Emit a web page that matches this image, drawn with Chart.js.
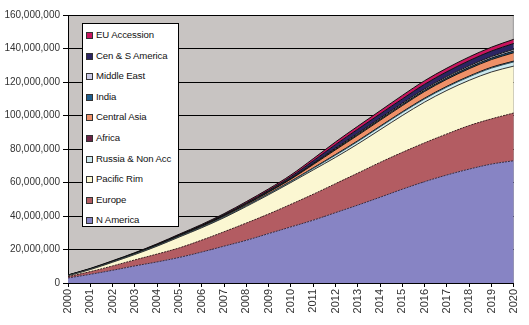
<!DOCTYPE html>
<html>
<head>
<meta charset="utf-8">
<script src="https://cdn.jsdelivr.net/npm/chart.js@4/dist/chart.umd.min.js"></script>
<style>
body { margin: 0; background: #fff; }
#wrap { position: relative; width: 529px; height: 325px; }
#legend {
    position: absolute; left: 82px; top: 23px; width: 97px; height: 204px;
    background: #fff; border: 1px solid #000; box-sizing: border-box;
    font: 9.6px "Liberation Sans", Arial, sans-serif; color: #111;
    padding-top: 1px; letter-spacing: -0.1px;
}
#legend div { height: 20.6px; line-height: 20.6px; white-space: nowrap; }
#legend span.sw {
    display: inline-block; width: 5px; height: 5px; border: 1px solid #333;
    margin: 0 3px 0 3px; vertical-align: -1px;
}
</style>
</head>
<body>
<div id="wrap">
<canvas id="area_chart" width="529" height="325"></canvas>
<div id="legend"></div>
</div>
<script>
// years on the x axis
var years = ["2000","2001","2002","2003","2004","2005","2006","2007","2008","2009","2010",
             "2011","2012","2013","2014","2015","2016","2017","2018","2019","2020"];

// values in millions
var nAmerica    = [3, 5.2, 7.6, 10.2, 12.6, 15.3, 18.5, 22, 25.5, 29.5, 33.5, 37.5, 42, 46.5, 51.2, 56, 60.5, 64.5, 68, 71, 73];
var europe      = [0.8, 1.6, 2.6, 3.6, 4.7, 5.7, 7.1, 8.6, 10.3, 11.7, 13.5, 15.5, 17.3, 19.1, 20.8, 22, 23.2, 24.5, 26, 27, 28.5];
var pacificRim  = [0.5, 1.2, 2.2, 3.2, 4.7, 6.5, 7.4, 8.4, 9.9, 11.5, 13, 14.5, 15.7, 17.4, 19.5, 22, 24.3, 26, 27, 28, 28];
var russia      = [0.1, 0.1, 0.15, 0.2, 0.2, 0.25, 0.3, 0.35, 0.4, 0.5, 0.6, 0.9, 1.3, 1.5, 1.7, 1.8, 1.9, 2, 2.1, 2.3, 2.5];
var africa      = [0.05, 0.05, 0.05, 0.05, 0.1, 0.1, 0.1, 0.1, 0.15, 0.15, 0.2, 0.3, 0.4, 0.4, 0.4, 0.4, 0.45, 0.45, 0.45, 0.5, 0.5];
var centralAsia = [0.1, 0.15, 0.2, 0.25, 0.3, 0.4, 0.5, 0.6, 0.7, 0.9, 1.2, 2, 2.8, 3.3, 3.5, 3.7, 4, 4.2, 4.4, 4.6, 5];
var india       = [0.05, 0.05, 0.05, 0.1, 0.1, 0.1, 0.1, 0.15, 0.15, 0.2, 0.25, 0.35, 0.5, 0.6, 0.65, 0.7, 0.75, 0.8, 0.85, 0.9, 1];
var middleEast  = [0.05, 0.05, 0.05, 0.1, 0.1, 0.1, 0.1, 0.15, 0.15, 0.2, 0.25, 0.35, 0.5, 0.6, 0.65, 0.7, 0.75, 0.8, 0.85, 0.9, 1];
var cenSAmerica = [0.1, 0.15, 0.2, 0.2, 0.3, 0.35, 0.4, 0.5, 0.6, 0.7, 1, 1.5, 2.1, 2.4, 2.5, 2.6, 2.8, 2.9, 3.1, 3.3, 3.5];
var euAccession = [0.05, 0.15, 0.2, 0.2, 0.3, 0.4, 0.5, 0.55, 0.75, 0.85, 1, 1.3, 1.6, 1.8, 1.9, 2.1, 2.15, 2.15, 2.25, 2.3, 2.5];

var seriesNames = ["N America", "Europe", "Pacific Rim", "Russia & Non Acc", "Africa",
                   "Central Asia", "India", "Middle East", "Cen & S America", "EU Accession"];
var seriesData = [nAmerica, europe, pacificRim, russia, africa, centralAsia, india, middleEast, cenSAmerica, euAccession];
var seriesColors = ["#8784c4", "#b35c62", "#fbf7d2", "#cde9ee", "#6a2446",
                    "#ee9068", "#1d5f8e", "#cacae6", "#2c2462", "#c8145e"];
var lineColors = ["#3a2a40", "#3a2020", "#333333", "#335560", "#111111",
                  "#111111", "#111111", "#111111", "#111111", "#111111"];

var datasets = [];
for (var i = 0; i < seriesNames.length; i++) {
    datasets.push({
        label: seriesNames[i],
        data: seriesData[i].map(function(v){ return v * 1000000; }),
        backgroundColor: seriesColors[i],
        borderColor: lineColors[i],
        borderWidth: 1,
        borderDash: i < 2 ? [2, 1] : [],
        fill: i == 0 ? 'origin' : '-1',
        pointRadius: 0,
        tension: 0.35
    });
}

var plotBackground = {
    id: 'plotBackground',
    beforeDraw: function(chart) {
        var a = chart.chartArea;
        var c = chart.ctx;
        c.save();
        c.fillStyle = '#c8c4c2';
        c.fillRect(a.left, a.top, a.right - a.left, a.bottom - a.top);
        c.strokeStyle = '#9a9a9a';
        c.lineWidth = 1;
        c.beginPath();
        c.moveTo(a.left, a.top + 0.5);
        c.lineTo(a.right - 0.5, a.top + 0.5);
        c.lineTo(a.right - 0.5, a.bottom);
        c.stroke();
        c.restore();
    }
};

var ctx = document.getElementById("area_chart");
var chart = new Chart(ctx, {
    type: "line",
    data: { labels: years, datasets: datasets },
    plugins: [plotBackground],
    options: {
        responsive: false,
        animation: false,
        layout: { padding: { top: 15, right: 7, left: 0, bottom: 0 } },
        plugins: {
            legend: { display: false },
            tooltip: { enabled: false }
        },
        scales: {
            x: {
                offset: false,
                afterFit: function(scale) { scale.height = 42; },
                grid: { drawOnChartArea: false, drawTicks: true, tickLength: 4, color: '#000' },
                border: { display: true, color: '#000' },
                ticks: {
                    autoSkip: false, maxRotation: 90, minRotation: 90, padding: 2,
                    color: '#333',
                    font: { family: '"Liberation Sans", Arial, sans-serif', size: 11 }
                }
            },
            y: {
                stacked: true,
                min: 0,
                max: 160000000,
                afterFit: function(scale) { scale.width = 68; },
                grid: { color: '#000', drawTicks: true, tickLength: 5, tickColor: '#000' },
                border: { display: true, color: '#000' },
                ticks: {
                    stepSize: 20000000, padding: 3,
                    color: '#333',
                    font: { family: '"Liberation Sans", Arial, sans-serif', size: 10 },
                    callback: function(value) { return value.toLocaleString('en-US'); }
                }
            }
        }
    }
});

// legend box in the plot, top item first
var legendBox = document.getElementById("legend");
for (var j = seriesNames.length - 1; j >= 0; j--) {
    var row = document.createElement("div");
    var sw = document.createElement("span");
    sw.className = "sw";
    sw.style.background = seriesColors[j];
    row.appendChild(sw);
    row.appendChild(document.createTextNode(seriesNames[j]));
    legendBox.appendChild(row);
}
</script>
</body>
</html>
